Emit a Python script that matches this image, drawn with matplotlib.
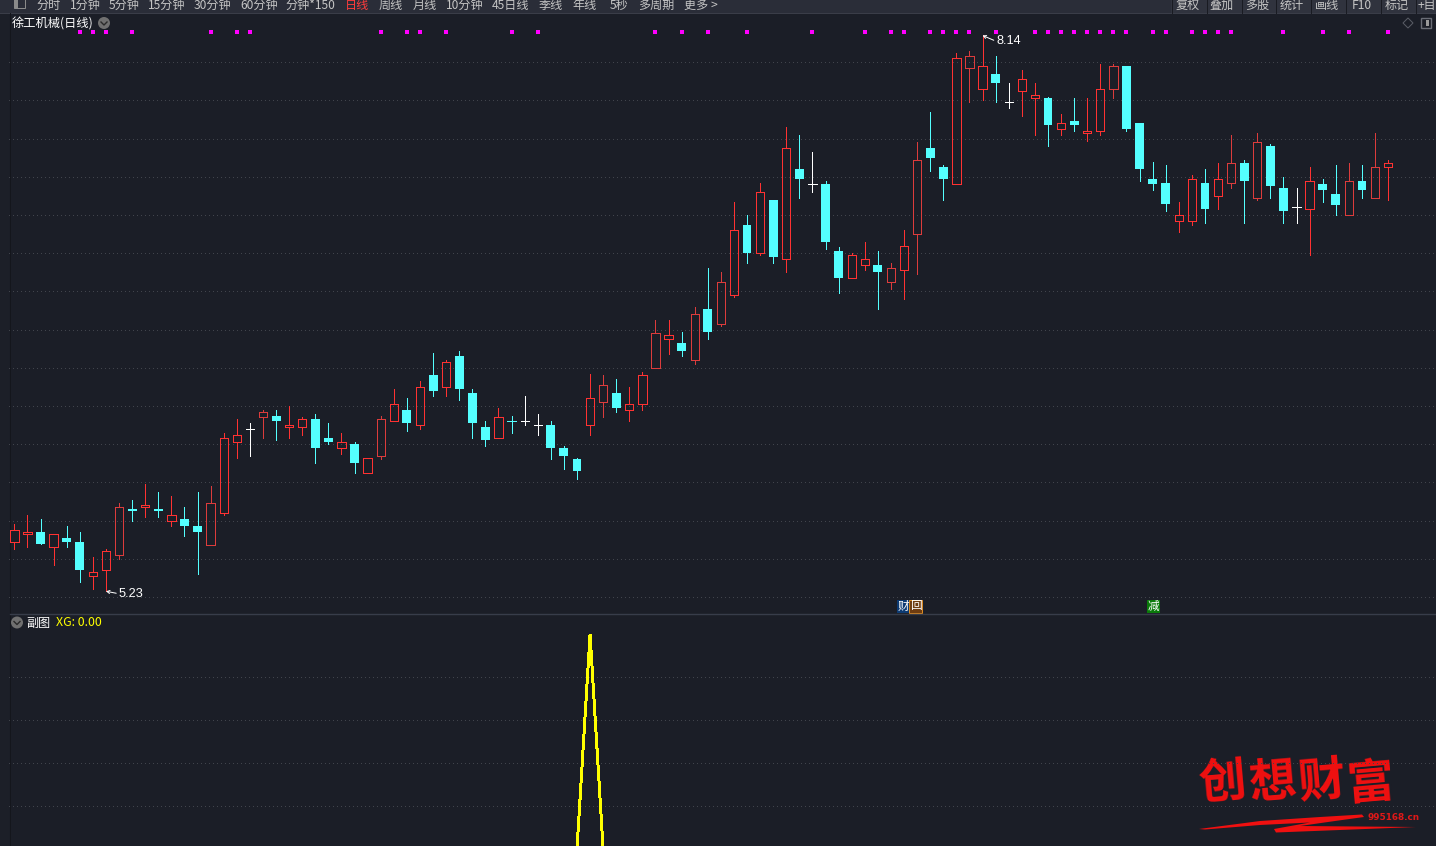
import numpy as np
import matplotlib
matplotlib.use("Agg")
import matplotlib.pyplot as plt
from matplotlib.patches import Circle, Polygon, Rectangle

plt.rcParams["font.family"] = ["Noto Sans CJK SC", "DejaVu Sans"]

# ---------- candles ----------
opens = [5.49, 5.53, 5.54, 5.46, 5.51, 5.49, 5.31, 5.34, 5.42, 5.66, 5.67, 5.66, 5.60, 5.61, 5.57, 5.47,
         5.64, 6.01, 6.08, 6.14, 6.15, 6.09, 6.09, 6.13, 6.03, 5.98, 6.00, 5.85, 5.94, 6.12, 6.18, 6.10,
         6.36, 6.30, 6.46, 6.27, 6.09, 6.03, 6.12, 6.12, 6.10, 6.10, 5.98, 5.92, 6.10, 6.22, 6.27, 6.18,
         6.21, 6.40, 6.55, 6.53, 6.44, 6.71, 6.63, 6.78, 7.15, 7.00, 7.28, 6.97, 7.44, 7.36, 7.36, 7.01,
         6.87, 6.94, 6.94, 6.85, 6.91, 7.10, 7.55, 7.45, 7.36, 7.97, 7.86, 7.94, 7.79, 7.85, 7.81, 7.81,
         7.65, 7.69, 7.63, 7.64, 7.86, 7.98, 7.68, 7.39, 7.37, 7.17, 7.17, 7.37, 7.30, 7.37, 7.47, 7.29,
         7.56, 7.34, 7.24, 7.23, 7.36, 7.31, 7.20, 7.38, 7.29, 7.45]
highs = [5.58, 5.63, 5.61, 5.53, 5.57, 5.54, 5.41, 5.45, 5.69, 5.71, 5.79, 5.75, 5.73, 5.67, 5.75, 5.78,
         6.06, 6.13, 6.11, 6.18, 6.18, 6.20, 6.14, 6.16, 6.11, 6.06, 6.01, 5.93, 6.15, 6.29, 6.24, 6.33,
         6.48, 6.44, 6.49, 6.29, 6.12, 6.19, 6.15, 6.25, 6.16, 6.12, 5.99, 5.93, 6.37, 6.36, 6.34, 6.30,
         6.38, 6.65, 6.65, 6.59, 6.72, 6.92, 6.90, 7.27, 7.20, 7.37, 7.28, 7.66, 7.62, 7.53, 7.38, 7.03,
         7.00, 7.06, 7.01, 6.95, 7.12, 7.58, 7.74, 7.46, 8.05, 8.06, 8.14, 8.03, 7.89, 7.96, 7.89, 7.82,
         7.73, 7.81, 7.81, 7.99, 7.99, 7.98, 7.68, 7.48, 7.46, 7.27, 7.41, 7.44, 7.47, 7.62, 7.49, 7.63,
         7.57, 7.40, 7.34, 7.45, 7.39, 7.46, 7.47, 7.46, 7.63, 7.49]
lows = [5.45, 5.46, 5.48, 5.37, 5.46, 5.28, 5.24, 5.23, 5.40, 5.60, 5.62, 5.62, 5.57, 5.52, 5.32, 5.47,
        5.63, 5.93, 5.94, 6.03, 6.02, 6.03, 6.05, 5.90, 6.00, 5.95, 5.85, 5.85, 5.92, 6.12, 6.07, 6.08,
        6.25, 6.25, 6.23, 6.03, 5.99, 6.03, 6.06, 6.10, 6.05, 5.92, 5.87, 5.82, 6.05, 6.14, 6.17, 6.12,
        6.18, 6.40, 6.47, 6.46, 6.42, 6.55, 6.62, 6.77, 6.95, 6.99, 6.95, 6.90, 7.29, 7.32, 7.02, 6.79,
        6.87, 6.91, 6.71, 6.81, 6.76, 6.89, 7.43, 7.28, 7.36, 7.79, 7.80, 7.79, 7.76, 7.72, 7.62, 7.56,
        7.62, 7.64, 7.59, 7.62, 7.81, 7.64, 7.38, 7.33, 7.22, 7.11, 7.15, 7.16, 7.23, 7.34, 7.16, 7.28,
        7.29, 7.16, 7.16, 6.99, 7.27, 7.20, 7.20, 7.29, 7.29, 7.28]
closes = [5.55, 5.54, 5.48, 5.53, 5.49, 5.34, 5.33, 5.44, 5.67, 5.65, 5.68, 5.65, 5.63, 5.57, 5.54, 5.69,
          6.03, 6.05, 6.08, 6.17, 6.12, 6.10, 6.13, 5.98, 6.01, 6.01, 5.90, 5.93, 6.13, 6.21, 6.11, 6.30,
          6.28, 6.43, 6.29, 6.11, 6.02, 6.14, 6.12, 6.12, 6.10, 5.98, 5.94, 5.86, 6.24, 6.31, 6.19, 6.21,
          6.36, 6.58, 6.57, 6.49, 6.68, 6.59, 6.85, 7.12, 7.00, 7.32, 6.98, 7.55, 7.39, 7.36, 7.06, 6.87,
          6.99, 6.97, 6.90, 6.92, 7.04, 7.49, 7.50, 7.39, 8.02, 8.03, 7.98, 7.89, 7.79, 7.91, 7.83, 7.67,
          7.68, 7.67, 7.64, 7.86, 7.98, 7.65, 7.44, 7.36, 7.26, 7.20, 7.39, 7.23, 7.39, 7.47, 7.38, 7.58,
          7.35, 7.22, 7.24, 7.38, 7.33, 7.25, 7.38, 7.33, 7.45, 7.47]

# doji that the software paints cyan instead of white
cyan_doji = [38]
# up candles painted in the duller red
dull_red = [8, 15, 19, 28, 45, 49, 52, 54, 67, 69, 73, 84, 93, 95, 102, 104]
# magenta marks along the top of the price panel
signal_idx = [5, 6, 7, 9, 15, 17, 18, 28, 30, 31, 33, 38, 40, 49, 51, 53, 56, 61, 65, 67, 68, 70, 71, 72, 73,
              75, 78, 79, 80, 81, 82, 83, 84, 85, 87, 88, 90, 91, 92, 93, 97, 100, 102, 105]
grid_prices = [5.2, 5.4, 5.6, 5.8, 6.0, 6.2, 6.4, 6.6, 6.8, 7.0, 7.2, 7.4, 7.6, 7.8, 8.0]
low_label = (7, 5.23, "5.23")
high_label = (74, 8.14, "8.14")

# ---------- sub panel ----------
xg_peak_idx = 44
xg_values = [0.0] * len(closes)
xg_values[xg_peak_idx] = 1.0
xg_grid = [0.2, 0.4, 0.6, 0.8]

# ---------- text ----------
left_tabs = [("分时", 36.5), ("1分钟", 70), ("5分钟", 109), ("15分钟", 148), ("30分钟", 194), ("60分钟", 240),
             ("分钟*150", 285.5), ("日线", 344.5), ("周线", 378.5), ("月线", 412.5), ("10分钟", 446), ("45日线", 492),
             ("季线", 538.5), ("年线", 572.5), ("5秒", 609.5), ("多周期", 638.5), ("更多 >", 684)]
right_tabs = [("复权", 1176), ("叠加", 1209.5), ("多股", 1245), ("统计", 1280), ("画线", 1315), ("F10", 1352),
              ("标记", 1385), ("+目", 1418)]
right_seps = [1171, 1206, 1241, 1275, 1310, 1345, 1380, 1415]
title = "徐工机械(日线)"
sub_title = "副图"
sub_value = "XG: 0.00"
watermark = [("创", 1222, 783), ("想", 1273, 783), ("财", 1322, 782), ("富", 1370, 784)]
site = "995168.cn"

BG = "#1b1e27"
RED = "#ff3232"
DULL = "#dc3c3c"
CYAN = "#54ffff"
GRID = "#41444c"
W, H = 1436, 846
PX = 0.72  # one pixel in points at dpi 100

# pixel layout of the two panels
X_LEFT = 9
MAIN_TOP, MAIN_BOT = 14, 613
SUB_TOP, SUB_BOT = 615, 846
CANDLE_X0, CANDLE_STEP = 14.4, 13.083


def y_price(px):
    return 5.2 + (597.0 - px) / 191.0


def y_xg(px):
    return (849.3 - px) / 215.0


def panel(top, bot, ylo, yhi, ticks):
    ax = fig.add_axes([X_LEFT / W, 1 - bot / H, (W - X_LEFT) / W, (bot - top) / H], zorder=6)
    ax.set_facecolor("none")
    ax.set_xlim((X_LEFT - CANDLE_X0) / CANDLE_STEP, (W - CANDLE_X0) / CANDLE_STEP)
    ax.set_ylim(ylo, yhi)
    ax.set_yticks(ticks)
    ax.grid(axis="y", color=GRID, linewidth=PX, linestyle=(0, (1, 3)), antialiased=False)
    ax.set_axisbelow(True)
    ax.tick_params(left=False, bottom=False, labelleft=False, labelbottom=False)
    for s in ax.spines.values():
        s.set_visible(False)
    return ax


fig = plt.figure(figsize=(W / 100, H / 100), dpi=100, facecolor=BG)

# ---------- price panel ----------
ax = panel(MAIN_TOP, MAIN_BOT, y_price(MAIN_BOT), y_price(MAIN_TOP), grid_prices)

for i, (o, h, l, c) in enumerate(zip(opens, highs, lows, closes)):
    if c > o:
        col = DULL if i in dull_red else RED
        ax.bar(i, c - o, bottom=o, width=0.64, facecolor="none", edgecolor=col, linewidth=PX, antialiased=False,
               clip_on=False)
        ax.vlines(i, c, h, color=col, linewidth=PX, antialiased=False)
        ax.vlines(i, l, o, color=col, linewidth=PX, antialiased=False)
    elif c < o:
        ax.vlines(i, l, h, color=CYAN, linewidth=PX, antialiased=False)
        ax.bar(i, o - c, bottom=c, width=0.68, color=CYAN, linewidth=0, antialiased=False)
    else:
        col = CYAN if i in cyan_doji else "white"
        ax.vlines(i, l, h, color=col, linewidth=PX, antialiased=False)
        ax.hlines(o, i - 0.31, i + 0.31, color=col, linewidth=PX, antialiased=False)

ax.scatter(signal_idx, [(MAIN_BOT - 32) / (MAIN_BOT - MAIN_TOP)] * len(signal_idx), marker="s", s=5.5,
           color="#ff00ff", linewidths=0, transform=ax.get_xaxis_transform(), clip_on=False)

for idx, price, label in (low_label, high_label):
    is_high = price > 7
    ax.annotate(label, xy=(idx, price), xytext=(14, -6) if is_high else (13, -2.5), textcoords="offset pixels",
                color="white", fontsize=9.2, va="center", ha="left", family=["Liberation Sans"],
                arrowprops=dict(arrowstyle="->,head_width=0.12,head_length=0.22", color="white", lw=PX,
                                shrinkA=0, shrinkB=0, relpos=(0, 0.5)))

# ---------- sub panel ----------
ax2 = panel(SUB_TOP, SUB_BOT, y_xg(SUB_BOT), y_xg(SUB_TOP), xg_grid)
ax2.plot(range(len(xg_values)), xg_values, color="#ffff00", linewidth=1.4, antialiased=False,
         solid_joinstyle="miter")

# ---------- chrome, in pixel coordinates ----------
ui = fig.add_axes([0, 0, 1, 1], zorder=5)
ui.set_xlim(0, W)
ui.set_ylim(H, 0)
ui.axis("off")

ui.add_patch(Rectangle((0, 0), W, 13, color="#2a2d38", lw=0))
ui.add_patch(Rectangle((1171, 0), W - 1171, 13, color="#30333e", lw=0))
ui.plot([0, W], [13, 13], color="#3a3d48", lw=PX)
ui.add_patch(Rectangle((0, 13), 9, H, color="#1c1f28", lw=0))
ui.plot([9.5, 9.5], [13, H], color="#14161c", lw=PX)
ui.plot([10, W], [614.5, 614.5], color="#383d4a", lw=1.0)
ui.add_patch(Rectangle((14, -2), 11, 10, fill=False, ec="#8a8a8a", lw=PX))
ui.add_patch(Rectangle((14, -2), 4, 10, color="#8a8a8a", lw=0))
for x in right_seps:
    ui.plot([x + 0.5, x + 0.5], [0, 13], color="#191b22", lw=PX)

for txt, x in left_tabs:
    col = "#ff3c3c" if txt == "日线" else "#c4c4c4"
    ui.text(x, 5.5, txt, color=col, fontsize=8.7, va="center", ha="left")
for txt, x in right_tabs:
    ui.text(x, 5.5, txt, color="#c4c4c4", fontsize=8.7, va="center", ha="left")

ui.text(12, 24.5, title, color="white", fontsize=8.8, va="center", ha="left")
ui.add_patch(Circle((104, 23), 6, color="#707070", lw=0))
ui.plot([101, 104, 107], [22, 25, 22], color="#2a2a2a", lw=1.0)
ui.add_patch(Polygon([(1408, 18), (1413, 23), (1408, 28), (1403, 23)], fill=False, ec="#5a5d66", lw=PX))
ui.add_patch(Rectangle((1421, 18), 10, 10, fill=False, ec="#6a6d76", lw=1.0))
ui.add_patch(Rectangle((1426, 20), 3, 6, color="#9a9a9a", lw=0))

ui.add_patch(Circle((17, 622.5), 6, color="#707070", lw=0))
ui.plot([14, 17, 20], [621.5, 624.5, 621.5], color="#2a2a2a", lw=1.0)
ui.text(26, 623, sub_title, color="white", fontsize=8.7, va="center", ha="left")
ui.text(56, 623, sub_value, color="#ffff00", fontsize=8.9, va="center", ha="left")

# event tags under the candles
ui.add_patch(Rectangle((897, 600), 12, 13, color="#0c3a72", lw=0))
ui.text(903, 606.5, "财", color="white", fontsize=8.4, va="center", ha="center")
ui.add_patch(Rectangle((909, 600), 13, 13, facecolor="#6e3c10", edgecolor="#d98a24", lw=PX))
ui.text(915.5, 606, "回", color="white", fontsize=8.4, va="center", ha="center")
ui.add_patch(Rectangle((1147, 600), 13, 13, color="#0a7a0a", lw=0))
ui.text(1153.5, 606.5, "减", color="white", fontsize=8.4, va="center", ha="center")

# watermark
for ch, x, y in watermark:
    ui.text(x, y, ch, color="#f01010", fontsize=34, fontweight="bold", va="center", ha="center", rotation=5)
ui.add_patch(Polygon([(1199, 829), (1260, 821), (1320, 817), (1362, 814.5), (1364, 817), (1335, 821), (1300, 826),
                      (1416, 827), (1340, 830), (1276, 832.5), (1274, 829), (1310, 822.5), (1260, 825),
                      (1205, 829.5)], color="#f01010", lw=0))
ui.text(1367, 818, site, color="#e01818", fontsize=6.4, fontweight="bold", va="center", ha="left",
        family=["DejaVu Sans"])

fig.savefig("out.png", dpi=100, facecolor=BG)
